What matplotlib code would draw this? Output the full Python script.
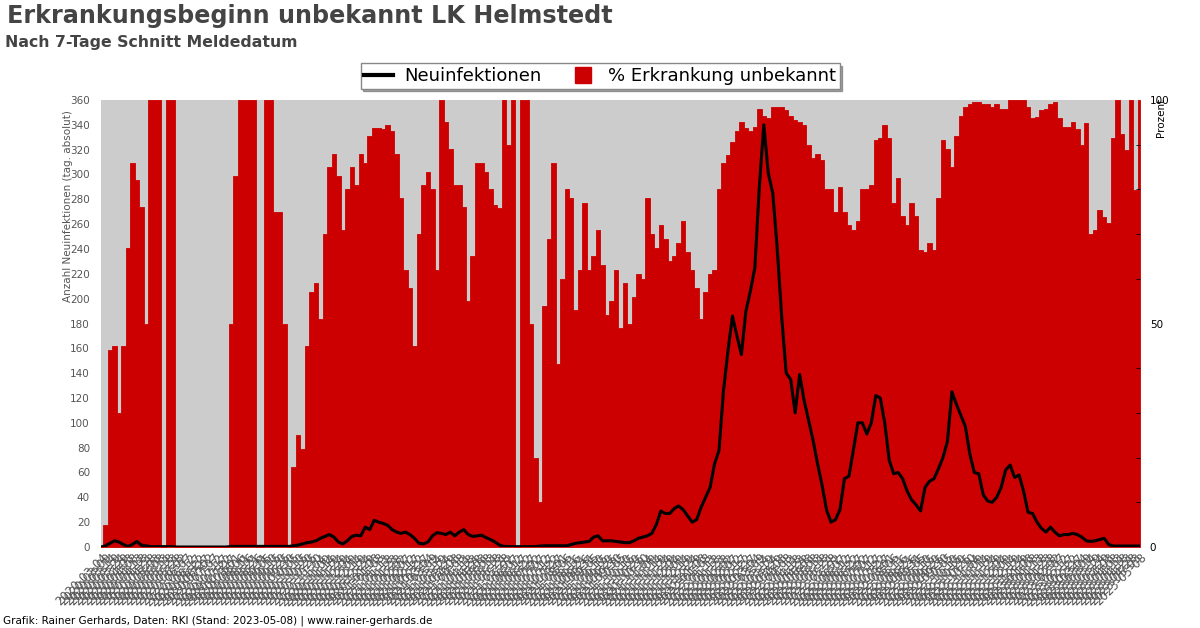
import matplotlib
matplotlib.use("Agg")
import matplotlib.pyplot as plt
import matplotlib.dates as mdates
from matplotlib.lines import Line2D
import pandas as pd

start_date = "2020-03-04"
step_days = 5

pct_unknown = [
    0, 5, 44, 45, 30, 45, 67, 86, 82, 76,
    50, 100, 100, 100, 0, 100, 100, 0, 0, 0,
    0, 0, 0, 0, 0, 0, 0, 0, 0, 50,
    83, 100, 100, 100, 100, 0, 0, 100, 100, 75,
    75, 50, 0, 18, 25, 22, 45, 57, 59, 51,
    70, 85, 88, 83, 71, 80, 85, 81, 88, 86,
    92, 93.7, 93.7, 93.5, 94.4, 93, 88, 78, 62, 58,
    45, 70, 81, 84, 80, 62, 100, 95, 89, 81,
    81, 76, 55, 65, 86, 86, 84, 80, 76.5, 75.8,
    100, 90, 100, 0, 100, 100, 50, 20, 10, 54,
    69, 86, 41, 60, 80, 78, 53, 62, 77, 62,
    65, 71, 63, 52, 55, 62, 49, 59, 50, 56,
    61, 60, 78, 70, 67, 72, 69, 64, 65, 68,
    73, 66, 62, 58, 51, 57, 61, 62, 80, 86,
    87.7, 90.7, 93, 95, 93.7, 93, 94, 98, 96.5, 96,
    98.5, 98.5, 98.5, 97.8, 96.5, 95.5, 95, 94.5, 90, 87,
    88, 86.5, 80, 80, 75, 80.5, 75, 72, 71, 73,
    80, 80, 81, 91, 91.4, 94.5, 91.5, 77, 82.5, 74,
    72, 77, 74, 66.4, 66, 68, 66.4, 78, 91, 89,
    85, 92, 96.5, 98.5, 99, 99.6, 99.5, 99, 99, 98.5,
    99, 98, 98, 100, 100, 100, 100, 98.5, 96, 96.3,
    97.8, 98, 99, 99.6, 96, 94, 94, 95, 93.5, 90,
    94.8, 70, 71, 75.5, 73.9, 72.4, 91.4, 100, 92.5, 88.8,
    100, 79.9, 100,
]

new_cases = [
    0, 1, 3, 5, 4, 2, 0.5, 2, 4.5, 1.5,
    1, 0.3, 0.3, 0.3, 0.3, 0.3, 0.3, 0, 0, 0,
    0, 0, 0, 0, 0, 0, 0, 0, 0, 0.5,
    0.5, 0.5, 0.5, 0.5, 0.5, 0.5, 0.5, 0.5, 0.5, 0.5,
    0.5, 0.5, 0.5, 1, 1.5, 2.5, 3.5, 4, 5, 7,
    8.5, 10, 8, 4, 2.5, 5, 8.5, 9.5, 9, 16,
    14, 21.5, 20, 19, 17.5, 14, 12, 11, 12, 10,
    7, 3, 2.5, 4, 9, 11.5, 11, 10, 12, 9,
    12, 14, 10, 8.5, 9, 9.5, 7.5, 6, 4, 1.5,
    0.5, 0.3, 0.3, 0.3, 0.3, 0.3, 0.3, 0.3, 0.8, 1,
    1, 1, 1, 1, 1, 2, 3, 3.5, 4, 4.5,
    8, 9, 5, 5, 5, 4.5, 4, 3.5, 3.5, 5,
    7, 8, 9, 11, 18, 29, 27, 27, 31, 33,
    30, 25, 20, 22, 32, 40, 48, 67, 78, 126,
    158, 186, 170, 155, 190, 206, 225, 290, 340, 301,
    285, 240, 185, 140, 135, 108, 139, 118, 102, 86,
    67, 50, 30, 20, 22, 30, 55, 57, 78, 100,
    100, 91, 100, 122, 120, 100, 70, 59, 60, 55,
    45, 38, 34, 29, 48, 53, 55, 63, 72, 85,
    125, 115, 106, 97, 75, 60, 59, 42, 37, 36,
    40, 48, 62, 66, 56, 58, 45, 28, 27, 20,
    15, 12, 16, 12, 9, 10, 10, 11, 10, 8,
    5, 4.5, 5, 6, 7, 2, 0.8, 0.8, 0.8, 0.8,
    0.8, 0.8, 0.8,
]

title = "Erkrankungsbeginn unbekannt LK Helmstedt"
subtitle = "Nach 7-Tage Schnitt Meldedatum"
footer = "Grafik: Rainer Gerhards, Daten: RKI (Stand: 2023-05-08) | www.rainer-gerhards.de"
label_cases = "Neuinfektionen"
label_pct = "% Erkrankung unbekannt"

dates = pd.date_range(start_date, periods=len(pct_unknown), freq=f"{step_days}D")

# ---- figure ----
fig = plt.figure(figsize=(12, 6.28), dpi=100)
L, R = 101 / 1200, 1140 / 1200
B, T = 1 - 547 / 628, 1 - 100 / 628
ax = fig.add_axes([L, B, R - L, T - B])
ax2 = ax.twinx()

# percent on right axis (drawn underneath)
ax2.patch.set_visible(True)
ax2.set_facecolor("#cccccc")
ax2.fill_between(dates, 0, pct_unknown, step="mid", color="#cc0000",
                 linewidth=0.6, edgecolor="#cc0000")
ax2.set_ylim(0, 100)
ax2.set_yticks([0, 50, 100])
ax2.set_yticks(range(0, 101, 10), minor=True)
ax2.tick_params(axis="y", which="both", direction="in", length=3, labelsize=7.5,
                colors="black", pad=7)
ax2.tick_params(axis="y", which="major", length=0)

# cases on left axis (drawn on top)
ax.set_zorder(ax2.get_zorder() + 1)
ax.patch.set_visible(False)
ax.plot(dates, new_cases, color="black", linewidth=2.2)
ax.set_ylim(0, 360)
ax.set_yticks(range(0, 361, 20))
ax.tick_params(axis="y", length=0, labelsize=7.5, labelcolor="#555555", pad=8)
ax.set_xlim(dates[0], dates[-1])
ax.set_xticks(dates)
ax.xaxis.set_major_formatter(mdates.DateFormatter("%Y-%m-%d"))
ax.tick_params(axis="x", length=0, labelsize=8.5, labelcolor="#555555", pad=3)
for lbl in ax.get_xticklabels():
    lbl.set_rotation(45)
    lbl.set_ha("right")
    lbl.set_rotation_mode("anchor")

for a in (ax, ax2):
    for s in a.spines.values():
        s.set_visible(False)

# axis titles
fig.text(68 / 1200, 1 - 110 / 628, "Anzahl Neuinfektionen (tag. absolut)", rotation=90,
         ha="center", va="top", fontsize=7.5, color="#555555")
fig.text(1161 / 1200, 1 - 98 / 628, "Prozent", rotation=90,
         ha="center", va="top", fontsize=7.5, color="black")

# titles
fig.text(7 / 1200, 1 - 16 / 628, title, fontsize=17.2, fontweight="bold",
         color="#444444", ha="left", va="center")
fig.text(5 / 1200, 1 - 42 / 628, subtitle, fontsize=11.3, fontweight="bold",
         color="#444444", ha="left", va="center")
fig.text(3 / 1200, 1 - 621 / 628, footer, fontsize=7.5, color="black",
         ha="left", va="center")

handles = [Line2D([0], [0], color="black", linewidth=3),
           Line2D([0], [0], color="#cc0000", marker="s", linestyle="none",
                  markersize=11)]
fig.legend(handles, [label_cases, label_pct], loc="center",
           bbox_to_anchor=(0.5, 1 - 76 / 628), ncol=2, fontsize=13,
           frameon=True, fancybox=False, shadow=True, edgecolor="#888888",
           borderpad=0.2, handlelength=1.6, columnspacing=1.5, handletextpad=0.6)

fig.savefig("out.png", dpi=100)
